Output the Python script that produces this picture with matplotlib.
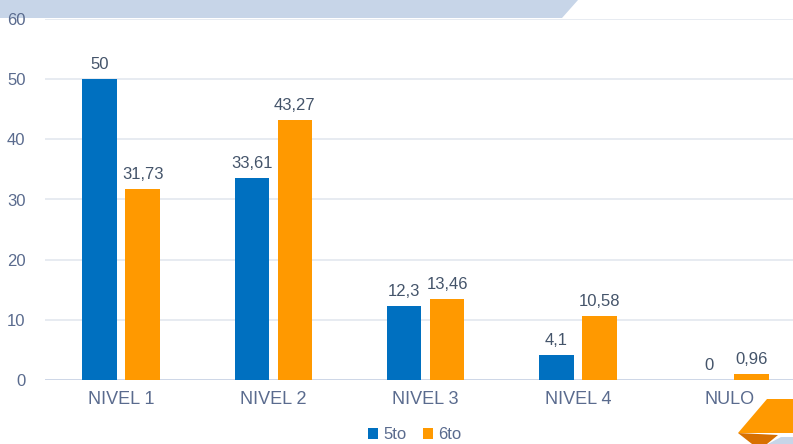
import matplotlib
matplotlib.use("Agg")
import matplotlib.pyplot as plt
from matplotlib.patches import Polygon
import numpy as np

categories = ["NIVEL 1", "NIVEL 2", "NIVEL 3", "NIVEL 4", "NULO"]
s5 = [50, 33.61, 12.3, 4.1, 0]
s6 = [31.73, 43.27, 13.46, 10.58, 0.96]
series_names = ["5to", "6to"]
yticks = [0, 10, 20, 30, 40, 50, 60]

plt.rcParams['font.family'] = ['Liberation Sans', 'DejaVu Sans']
W, H = 793, 444
fig = plt.figure(figsize=(W/100, H/100), dpi=100)

txt = '#5a6b8e'
blue = '#0070c0'
orange = '#ff9900'

# decorative header band
def px(pts):
    return [(x / W, 1 - y / H) for x, y in pts]
fig.patches.append(Polygon(px([(0, 0), (578, 0), (562, 18), (0, 18)]), closed=True,
                           transform=fig.transFigure, facecolor='#c7d5e8', edgecolor='none', zorder=0))
# decorative bottom-right shapes
fig.patches.append(Polygon(px([(767, 399), (793, 399), (793, 433), (738, 433)]), closed=True,
                           transform=fig.transFigure, facecolor='#ff9900', edgecolor='none', zorder=0))
fig.patches.append(Polygon(px([(738, 433), (778, 435), (767, 444), (752, 444)]), closed=True,
                           transform=fig.transFigure, facecolor='#d87000', edgecolor='none', zorder=0))
fig.patches.append(Polygon(px([(768, 444), (781, 437), (793, 437), (793, 444)]), closed=True,
                           transform=fig.transFigure, facecolor='#c7d5e8', edgecolor='none', zorder=0))

ax = fig.add_axes([45 / W, 1 - 380 / H, 1 - 45 / W, (380 - 19) / H])
ax.set_zorder(2)
ax.patch.set_alpha(0)
x = np.arange(len(categories))
w = 0.227
off = 0.141
b1 = ax.bar(x - off, s5, w, color=blue, label=series_names[0], zorder=3)
b2 = ax.bar(x + off, s6, w, color=orange, label=series_names[1], zorder=3)

def fmt(v):
    s = ('%g' % v).replace('.', ',')
    return s

for xs, vals in ((x - off, s5), (x + off, s6)):
    for xi, v in zip(xs, vals):
        ax.annotate(fmt(v), (xi, v), xytext=(0, 5), textcoords='offset points',
                    ha='center', va='bottom', fontsize=12, color='#44546a', zorder=4)

ax.set_ylim(0, 60)
ax.set_xlim(-0.5, (W - 121) / 152.25)
ax.set_yticks(yticks)
ax.set_xticks(x)
ax.set_xticklabels(categories)
ax.tick_params(axis='both', length=0, labelsize=12, colors=txt)
ax.tick_params(axis='x', pad=8, labelsize=13)
ax.tick_params(axis='y', pad=14)
for lab in ax.get_yticklabels():
    lab.set_horizontalalignment('right')
ax.grid(axis='y', color='#e3e7ef', linewidth=1.2, zorder=0)
for sp in ax.spines.values():
    sp.set_visible(False)
ax.axhline(0, color='#c9d3e6', linewidth=1.2, zorder=2)

leg = fig.legend(handles=[b1, b2], labels=series_names, loc='lower center',
                 bbox_to_anchor=(415 / W, -0.03), ncol=2, frameon=False, fontsize=12,
                 handlelength=0.6, handleheight=0.6, handletextpad=0.3, columnspacing=1.0)
leg.set_zorder(3)
for t in leg.get_texts():
    t.set_color(txt)

fig.savefig('out.png', dpi=100)
